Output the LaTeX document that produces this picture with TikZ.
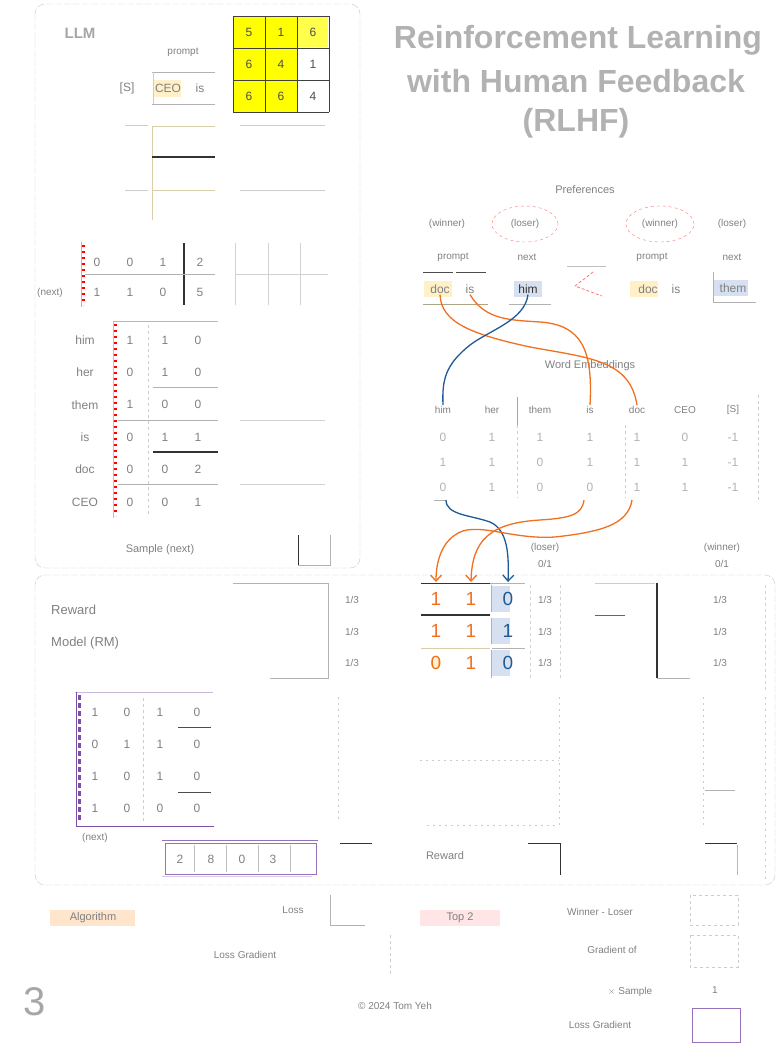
\documentclass[tikz,border=0pt]{standalone}
\usepackage{fontspec}
\setmainfont{Liberation Sans}
\usetikzlibrary{arrows.meta,shapes.geometric}
\definecolor{tx}{gray}{0.5}
\definecolor{ora}{HTML}{F07020}
\definecolor{blu}{HTML}{1F5A96}
\definecolor{lblue}{HTML}{D6E0F0}
\definecolor{lyel}{HTML}{FFF0C8}
\definecolor{yel}{HTML}{FFFF00}
\definecolor{purp}{HTML}{7B4FA8}
\definecolor{tanc}{HTML}{D8CFA8}
\begin{document}
\begin{tikzpicture}[x=1pt,y=-1pt,
  txt/.style={text=tx,font=\fontsize{10}{12}\selectfont,inner sep=1pt},
  big/.style={text=gray!60,font=\fontsize{32}{36}\selectfont\bfseries,inner sep=0pt},
  lbl/.style={text=tx,font=\fontsize{12}{14}\selectfont,inner sep=1pt},
  hand/.style={font=\fontsize{19}{20}\selectfont,inner sep=0pt},
  panel/.style={draw=gray!45,dash pattern=on 7pt off 2pt,rounded corners=10pt},
  thinl/.style={draw=gray!60,line width=0.8pt},
  darkl/.style={draw=black!80,line width=1.2pt},
  curve/.style={line width=1.3pt},
  tip/.style={-{Straight Barb[length=6pt,width=11pt]}}
]
\useasboundingbox (0,0) rectangle (782,1052);

% ---------- panels ----------
\draw[panel] (35,4) rectangle (360,568);
\draw[panel] (35,575) rectangle (775,885);

% ---------- title ----------
\node[big] (t1) at (578,40) {Reinforcement Learning};
\node[big] (t2) at (576,81) {with Human Feedback};
\node[big] (t3) at (576,123) {(RLHF)};

% ---------- LLM panel ----------
\node[font=\fontsize{15}{17}\selectfont\bfseries,text=gray!70] (llm) at (80,33) {LLM};
\node[txt] (prompt) at (183,52) {prompt};
\node[lbl] (s0) at (127,88) {[S]};
\fill[lyel] (154,80) rectangle (181,97);
\node[lbl] (w1) at (168,88) {CEO};
\node[lbl] (w2) at (200,88) {is};
\draw[thinl] (152,72) -- (215,72);
\draw[thinl] (152,104) -- (215,104);
\draw[draw=tanc,line width=0.8pt] (153,72) -- (153,104);

% yellow matrix
\fill[yel] (233,16) rectangle (297,112);
\fill[yel!70] (298,17) rectangle (328,47);
\foreach \r/\a/\b/\c in {1/5/1/6,2/6/4/1,3/6/6/4}{
  \pgfmathsetmacro{\yy}{0+32*\r}
  \node[lbl,text=black!70] (y\r a) at (249,\yy) {\a};
  \node[lbl,text=black!70] (y\r b) at (281,\yy) {\b};
  \node[lbl,text=black!70] (y\r c) at (313,\yy) {\c};
}
\foreach \xx in {233,265,297,329}{\draw[black!75,line width=0.9pt] (\xx,16) -- (\xx,112);}
\foreach \yy in {16,48,80,112}{\draw[black!75,line width=0.9pt] (233,\yy) -- (329,\yy);}

% hidden matrix (empty)
\draw[draw=tanc,line width=0.8pt] (152,126) -- (152,220);
\draw[draw=tanc,line width=0.8pt] (152,126) -- (215,126);
\draw[darkl] (152,157) -- (215,157);
\draw[draw=tanc,line width=0.8pt] (152,190) -- (215,190);
\draw[thinl,draw=gray!40] (125,125) -- (148,125) (125,190) -- (148,190);
\draw[thinl,draw=gray!40] (240,125) -- (325,125) (240,190) -- (325,190);

% next-token matrix
\draw[red!40,line width=0.8pt] (81,242) -- (81,307);
\draw[red,line width=3pt,dash pattern=on 2pt off 4pt] (83,245) -- (83,305);
\node[txt] (r1l) at (50,293) {(next)};
\foreach \v/\xx in {0/97,0/130,1/163}{\node[lbl] at (\xx,262) {\v};}
\foreach \v/\xx in {1/97,1/130,0/163}{\node[lbl] at (\xx,292) {\v};}
\node[lbl] (n1) at (200,262) {2};
\node[lbl] (n2) at (200,292) {5};
\draw[darkl] (184,243) -- (184,305);
\draw[thinl] (85,274) -- (215,274);
\draw[thinl,draw=gray!35] (235,243) -- (235,305) (235,274) -- (328,274);
\draw[thinl,draw=gray!35] (268,243) -- (268,305) (300,243) -- (300,305);

% output matrix
\draw[red!35,line width=0.8pt] (113,322) -- (113,518);
\draw[red!40,line width=0.8pt] (113,321) -- (218,321);
\draw[red,line width=3pt,dash pattern=on 2pt off 4pt] (115,324) -- (115,516);
\draw[gray!40,dashed] (148,325) -- (148,515);
\foreach \lab/\a/\b/\c [count=\i] in {him/1/1/0,her/0/1/0,them/1/0/0,is/0/1/1,doc/0/0/2,CEO/0/0/1}{
  \pgfmathsetmacro{\yy}{307.6+32.4*\i}
  \node[lbl] (o\i l) at (85,\yy) {\lab};
  \node[lbl] (o\i a) at (130,\yy) {\a};
  \node[lbl] (o\i b) at (165,\yy) {\b};
  \node[lbl] (o\i c) at (198,\yy) {\c};
}
\draw[thinl] (153,387) -- (218,387);
\draw[thinl] (118,420) -- (218,420);
\draw[darkl,line width=1.8pt] (153,452) -- (218,452);
\draw[thinl] (118,484) -- (218,484);
\draw[thinl,draw=gray!35] (240,420) -- (325,420) (240,484) -- (325,484);
\node[txt,font=\fontsize{11}{13}\selectfont] (samp) at (160,550) {Sample (next)};
\draw[darkl,line width=0.9pt] (298,535) -- (298,565);
\draw[thinl] (298,565) -- (330,565) -- (330,535);

% ---------- preferences ----------
\node[txt,font=\fontsize{11}{13}\selectfont] (pref) at (585,190) {Preferences};
\node[txt] (pw1) at (447,224) {(winner)};
\node[txt] (pl1) at (525,224) {(loser)};
\node[txt] (pw2) at (660,224) {(winner)};
\node[txt] (pl2) at (732,224) {(loser)};
\node[draw=red!55,dashed,ellipse,minimum width=66pt,minimum height=36pt] (e1) at (525,224) {};
\node[draw=red!55,dashed,ellipse,minimum width=68pt,minimum height=36pt] (e2) at (660,224) {};
\node[txt] (pp1) at (453,257) {prompt};
\node[txt] (pn1) at (527,257) {next};
\node[txt] (pp2) at (652,257) {prompt};
\node[txt] (pn2) at (732,257) {next};
\draw[thinl,draw=black!70] (423,272) -- (453,272) (456,272) -- (486,272);
\fill[lyel] (424,281) rectangle (452,297);
\node[lbl] (pd) at (440,289) {doc};
\node[lbl] (pis) at (470,289) {is};
\fill[lblue] (514,281) rectangle (542,297);
\node[lbl,text=black!80] (phim) at (528,289) {him};
\draw[thinl,draw=tanc!80!black] (423,304) -- (488,304);
\draw[thinl] (509,304) -- (551,304);
\draw[red!55,densely dashed,line width=0.8pt] (593,272) -- (575,286) -- (602,296);
\draw[gray!50] (567,266) -- (606,266);
\fill[lyel] (630,281) rectangle (658,297);
\node[lbl] (qd) at (648,289) {doc};
\node[lbl] (qis) at (676,289) {is};
\fill[lblue] (714,280) rectangle (748,296);
\node[lbl] (qthem) at (733,288) {them};
\draw[thinl] (713,272) -- (713,302) -- (756,302);

% ---------- word embeddings ----------
\node[txt,font=\fontsize{11}{13}\selectfont] (we) at (590,366) {Word Embeddings};
\foreach \w/\xx [count=\j] in {him/443,her/492,them/540,is/590,doc/637,CEO/685,{[S]}/733}{
  \node[txt] (e\j) at (\xx,410) {\w};
}
\foreach \r/\vals in {1/{0,1,1,1,1,0,-1},2/{1,1,0,1,1,1,-1},3/{0,1,0,0,1,1,-1}}{
  \pgfmathsetmacro{\yy}{412+25*\r}
  \foreach \v/\xx [count=\j] in \vals{
    \pgfmathsetmacro{\xc}{{443,492,540,590,637,685,733}[\j-1]}
    \node[lbl,text=gray!60] at (\xc,\yy) {\v};
  }
}
\draw[gray!70,line width=0.8pt] (517,397) -- (517,425);
\draw[gray!40,dashed] (517,425) -- (517,498) (625,425) -- (625,498) (758,395) -- (758,500);
\draw[gray!60] (434,500) -- (446,500);

% curves prefs -> embeddings
\draw[ora,curve] (pd.south) .. controls (441,322) and (470,334) .. (530,347) .. controls (590,358) and (630,360) .. (e5.north);
\draw[ora,curve] (pis.south) .. controls (485,320) and (510,320) .. (540,322) .. controls (582,325) and (593,350) .. (e4.north);
\draw[blu,curve] (phim.south) .. controls (525,320) and (490,330) .. (470,345) .. controls (445,365) and (442,380) .. (e1.north);

% ---------- reward matrix ----------
\coordinate (ea) at (446,500);
\coordinate (eb) at (584,500);
\coordinate (ec) at (632,500);
\fill[lblue] (492,586) rectangle (510,612);
\fill[lblue] (492,618) rectangle (510,644);
\fill[lblue] (492,650) rectangle (510,676);
\node[hand,text=ora] (r11) at (436,599) {1};
\node[hand,text=ora] (r12) at (471,599) {1};
\node[hand,text=blu] (r13) at (508,599) {0};
\node[hand,text=ora] (r21) at (436,631) {1};
\node[hand,text=ora] (r22) at (471,631) {1};
\node[hand,text=blu] (r23) at (508,631) {1};
\fill[lyel] (436,663) circle (5pt);
\node[hand,text=ora] (r31) at (436,663) {0};
\node[hand,text=ora] (r32) at (471,663) {1};
\node[hand,text=blu] (r33) at (508,663) {0};
\draw[darkl,line width=0.9pt] (421,583) -- (490,583);
\draw[thinl] (490,583) -- (525,583);
\draw[darkl,line width=1.4pt] (421,615) -- (490,615);
\draw[draw=tanc,line width=1pt] (421,648) -- (490,648);
\draw[thinl] (491,585) -- (491,612) (491,618) -- (491,644) (491,650) -- (491,678);
\draw[thinl] (492,648) -- (525,648);

\draw[blu,curve,tip] (ea) .. controls (446,515) and (470,515) .. (490,522) .. controls (508,530) and (509,555) .. (r13.north |- 0,582);
\draw[ora,curve,tip] (eb) .. controls (582,515) and (570,518) .. (540,520) .. controls (490,523) and (472,540) .. (r12.north |- 0,582);
\draw[ora,curve,tip] (ec) .. controls (628,525) and (600,532) .. (555,537) .. controls (510,540) and (475,520) .. (455,535) .. controls (440,545) and (436,565) .. (r11.north |- 0,582);

\foreach \yy in {600,632,663}{
  \node[txt] at (352,\yy) {1/3};
  \node[txt] at (545,\yy) {1/3};
  \node[txt] at (720,\yy) {1/3};
}
\node[txt] (hl) at (545,548) {(loser)};
\node[txt] (hl2) at (545,564) {0/1};
\node[txt] (hr) at (722,548) {(winner)};
\node[txt] (hr2) at (722,564) {0/1};
\draw[gray!35,dashed] (530,585) -- (530,680) (560,585) -- (560,680);
\draw[gray!35,dashed] (765,585) -- (765,690);

\draw[thinl] (233,583) -- (328,583) -- (328,678) -- (270,678);
\node[txt,font=\fontsize{13}{15}\selectfont,anchor=west] (rm1) at (50,610) {Reward};
\node[txt,font=\fontsize{13}{15}\selectfont,anchor=west] (rm2) at (50,643) {Model (RM)};

\draw[draw=tanc,line width=0.8pt] (595,583) -- (655,583);
\draw[thinl,draw=black!60] (595,615) -- (625,615);
\draw[darkl] (657,583) -- (657,678);
\draw[thinl] (657,678) -- (690,678);

% purple matrix
\draw[purp!40,line width=0.8pt] (75,692) -- (213,692);
\draw[purp,line width=0.9pt] (76,692) -- (76,826) -- (214,826);
\draw[purp,line width=3pt,dash pattern=on 5pt off 3pt] (79,695) -- (79,822);
\draw[gray!40,dashed] (143,698) -- (143,822);
\foreach \a/\b/\c/\d [count=\i] in {1/0/1/0,0/1/1/0,1/0/1/0,1/0/0/0}{
  \pgfmathsetmacro{\yy}{680+32.2*\i}
  \node[lbl] (m\i a) at (95,\yy) {\a};
  \node[lbl] (m\i b) at (127,\yy) {\b};
  \node[lbl] (m\i c) at (160,\yy) {\c};
  \node[lbl] (m\i d) at (197,\yy) {\d};
}
\draw[thinl,draw=black!70] (178,727) -- (211,727) (178,792) -- (211,792);
\node[txt] (mnext) at (95,838) {(next)};
\draw[purp!80,line width=0.9pt] (162,840) -- (318,840);
\draw[purp!80,line width=0.9pt] (165,843) rectangle (316,874);
\draw[purp!30] (162,876) -- (312,876);
\foreach \v/\xx in {2/180,8/211,0/242,3/273}{\node[lbl] at (\xx,859) {\v};}
\draw[gray!50] (194,845) -- (194,872) (226,845) -- (226,872) (258,845) -- (258,872) (290,845) -- (290,872);

% middle boxes
\draw[gray!40,dash pattern=on 2pt off 4pt] (338,697) -- (338,822) (559,697) -- (559,825) (420,760) -- (559,760) (427,825) -- (559,825);
\draw[gray!40,dash pattern=on 2pt off 4pt] (703,697) -- (703,825) (765,697) -- (765,880);
\draw[gray!60] (705,790) -- (735,790);
\draw[darkl,line width=0.9pt] (340,843) -- (372,843);
\node[txt,font=\fontsize{11}{13}\selectfont] (reward) at (445,856) {Reward};
\draw[darkl,line width=0.9pt] (528,843) -- (560,843) -- (560,875);
\draw[darkl,line width=0.9pt] (705,843) -- (737,843);
\draw[green!40!gray!60,line width=0.8pt] (737,845) -- (737,875);

% ---------- bottom ----------
\fill[orange!20] (50,910) rectangle (135,926);
\node[txt,font=\fontsize{11}{13}\selectfont] (alg) at (93,918) {Algorithm};
\node[txt] (loss) at (293,910) {Loss};
\draw[thinl] (330,895) -- (330,925) -- (365,925);
\fill[pink!40] (420,910) rectangle (500,926);
\node[txt,font=\fontsize{11}{13}\selectfont] (ty) at (460,918) {Top 2};
\node[txt] (wl) at (600,912) {Winner - Loser};
\draw[gray!40,dashed] (690,895) rectangle (738,925);
\node[txt] (lg1) at (245,955) {Loss Gradient};
\draw[gray!40,dashed] (390,935) -- (390,975);
\node[txt] (go) at (612,950) {Gradient of};
\draw[gray!40,dashed] (690,935) rectangle (738,967);
\node[txt] (sm) at (630,992) {$\times$ Sample};
\node[txt] (one) at (715,990) {1};
\node[txt] (copy) at (395,1006) {\copyright\ 2024 Tom Yeh};
\node[txt] (lg2) at (600,1025) {Loss Gradient};
\draw[purp!80,line width=0.9pt] (692,1008) rectangle (740,1042);
\node[text=gray!70,font=\fontsize{40}{44}\selectfont,inner sep=0pt] (three) at (35,1002) {3};
\end{tikzpicture}
\end{document}
